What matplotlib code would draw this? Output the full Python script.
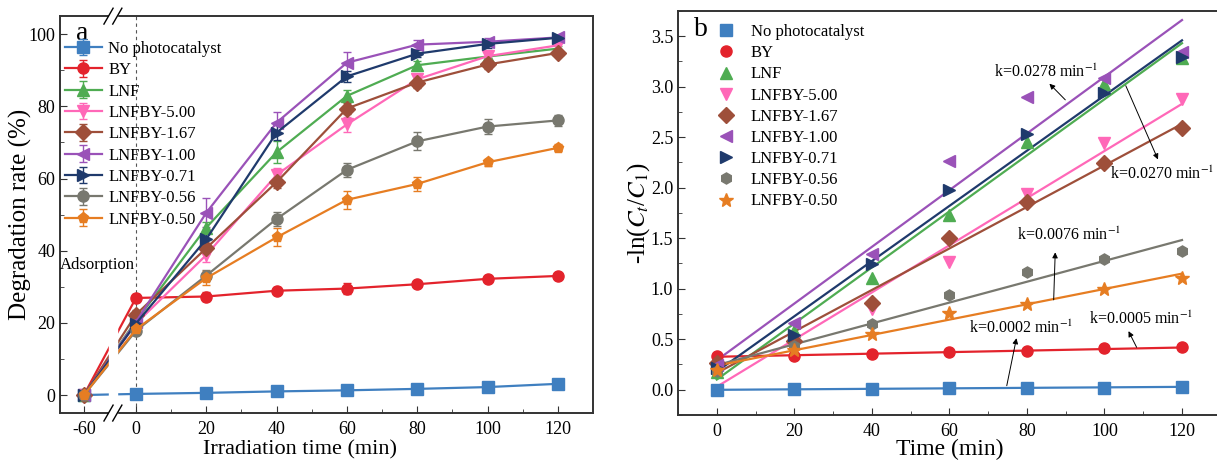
import numpy as np
import matplotlib
matplotlib.use("Agg")
import matplotlib.pyplot as plt
from matplotlib.ticker import MultipleLocator, FixedLocator

plt.rcParams['font.family'] = ['Liberation Serif', 'DejaVu Serif']
plt.rcParams['mathtext.fontset'] = 'stix'

# ---- data ----
names = ['No photocatalyst', 'BY', 'LNF', 'LNFBY-5.00', 'LNFBY-1.67',
         'LNFBY-1.00', 'LNFBY-0.71', 'LNFBY-0.56', 'LNFBY-0.50']
colors = ['#3f7fc0', '#e3232c', '#4fac52', '#ff68b8', '#9e4f3a',
          '#9a52b8', '#1f3a6c', '#78786f', '#e67d22']
markers_a = ['s', 'o', '^', 'v', 'D', '<', '>', 'o', 'p']
markers_b = ['s', 'o', '^', 'v', 'D', '<', '>', 'h', '*']

# panel a: degradation rate (%)
time_a = [-60, 0, 20, 40, 60, 80, 100, 120]
deg_nocat = [0, 0.3, 0.6, 1.0, 1.3, 1.7, 2.2, 3.1]
deg_by = [0, 26.9, 27.3, 28.9, 29.5, 30.7, 32.2, 33.0]
deg_lnf = [0, 20.5, 46.4, 67.3, 82.9, 91.4, 93.8, 96.0]
deg_500 = [0, 19.8, 38.8, 61.0, 75.0, 87.5, 93.9, 96.9]
deg_167 = [0, 22.3, 40.7, 59.0, 79.4, 86.6, 91.6, 94.8]
deg_100 = [0, 20.2, 50.5, 75.5, 92.1, 97.1, 97.9, 99.1]
deg_071 = [0, 19.8, 43.2, 72.7, 88.3, 94.6, 97.3, 99.0]
deg_056 = [0, 17.8, 33.1, 48.8, 62.4, 70.3, 74.4, 76.1]
deg_050 = [0, 18.2, 32.4, 43.7, 54.1, 58.5, 64.5, 68.5]

err_nocat = [0, 0.3, 0.3, 0.3, 0.3, 0.3, 0.3, 0.3]
err_by = [0, 1.0, 1.2, 1.0, 1.5, 0.8, 0.8, 0.6]
err_lnf = [0, 1.0, 1.5, 3.0, 1.5, 1.2, 1.0, 0.8]
err_500 = [0, 1.0, 2.0, 2.0, 2.0, 1.5, 1.0, 1.0]
err_167 = [0, 1.2, 1.5, 1.5, 1.5, 1.5, 1.2, 0.8]
err_100 = [0, 1.0, 4.0, 3.0, 3.0, 1.2, 1.0, 0.8]
err_071 = [0, 1.0, 1.5, 2.0, 1.5, 1.0, 1.0, 0.8]
err_056 = [0, 1.0, 1.5, 2.0, 2.0, 2.5, 2.0, 1.5]
err_050 = [0, 1.0, 2.0, 2.5, 2.5, 2.0, 1.0, 1.0]

# panel b: -ln(Ct/C1)
time_b = [0, 20, 40, 60, 80, 100, 120]
ln_nocat = [0.0, 0.004, 0.01, 0.013, 0.017, 0.022, 0.031]
ln_by = [0.336, 0.335, 0.355, 0.37, 0.38, 0.41, 0.42]
ln_lnf = [0.18, 0.58, 1.11, 1.73, 2.45, 3.03, 3.28]
ln_500 = [0.21, 0.48, 0.80, 1.26, 1.94, 2.44, 2.88]
ln_167 = [0.26, 0.48, 0.86, 1.50, 1.86, 2.24, 2.59]
ln_100 = [0.24, 0.66, 1.34, 2.26, 2.90, 3.09, 3.34]
ln_071 = [0.22, 0.54, 1.24, 1.98, 2.53, 2.94, 3.29]
ln_056 = [0.19, 0.43, 0.65, 0.94, 1.17, 1.29, 1.37]
ln_050 = [0.20, 0.39, 0.55, 0.76, 0.85, 1.00, 1.11]

deg_all = [deg_nocat, deg_by, deg_lnf, deg_500, deg_167, deg_100, deg_071, deg_056, deg_050]
err_all = [err_nocat, err_by, err_lnf, err_500, err_167, err_100, err_071, err_056, err_050]
ln_all = [ln_nocat, ln_by, ln_lnf, ln_500, ln_167, ln_100, ln_071, ln_056, ln_050]

k_labels = ['k=0.0278 min$^{-1}$', 'k=0.0270 min$^{-1}$', 'k=0.0076 min$^{-1}$',
            'k=0.0005 min$^{-1}$', 'k=0.0002 min$^{-1}$']

fig = plt.figure(figsize=(12.17, 4.61), dpi=100)
ax1 = fig.add_axes([0.0493, 0.104, 0.4380, 0.861])
ax2 = fig.add_axes([0.5571, 0.0998, 0.4460, 0.8764])

# broken axis: the -60 point is drawn compressed left of 0
X60 = -14.8


def brk(t):
    t = np.asarray(t, dtype=float)
    return np.where(t < 0, X60, t)


for i in range(len(names)):
    ax1.errorbar(brk(time_a), deg_all[i], yerr=err_all[i], color=colors[i],
                 marker=markers_a[i], ms=8, lw=1.6, elinewidth=1, capsize=3,
                 ecolor=colors[i], label=names[i], zorder=3)

ax1.axvline(0, color='#555555', ls=(0, (3, 3)), lw=0.8, zorder=1)
ax1.axvspan(-7.8, -5.3, ymin=-0.02, ymax=1.02, color='white', zorder=4, clip_on=False)
tr = ax1.get_xaxis_transform()
for xb in (-7.8, -5.3):
    for yb in (0, 1):
        ax1.plot([xb - 1.3, xb + 1.3], [yb - 0.02, yb + 0.02], color='black',
                 lw=1, transform=tr, clip_on=False, zorder=6)

ax1.set_xlim(-21.6, 130)
ax1.set_ylim(-5, 105)
ax1.xaxis.set_major_locator(FixedLocator([X60, 0, 20, 40, 60, 80, 100, 120]))
ax1.set_xticklabels(['-60', '0', '20', '40', '60', '80', '100', '120'])
ax1.xaxis.set_minor_locator(FixedLocator([10, 30, 50, 70, 90, 110]))
ax1.yaxis.set_major_locator(MultipleLocator(20))
ax1.yaxis.set_minor_locator(MultipleLocator(10))
ax1.set_xlabel('Irradiation time (min)', fontsize=16, labelpad=1, x=0.45)
ax1.set_ylabel('Degradation rate (%)', fontsize=18, labelpad=-3)
ax1.text(-17, 98.5, 'a', fontsize=20, va='baseline', zorder=10)
ax1.text(-21.6, 36, 'Adsorption', fontsize=12, va='center', zorder=10)
leg1 = ax1.legend(loc='upper left', bbox_to_anchor=(0.0, 0.95), frameon=False,
                  fontsize=12, handlelength=2.2, handletextpad=0.4, labelspacing=0.32,
                  borderaxespad=0.2, borderpad=0.1)
leg1.set_zorder(10)

# panel b: points with linear fits
for i in range(len(names)):
    p = np.polyfit(time_b, ln_all[i], 1)
    tt = np.array([time_b[0], time_b[-1]])
    ax2.plot(tt, np.polyval(p, tt), color=colors[i], lw=1.6, zorder=2)
    ax2.plot(time_b, ln_all[i], ls='none', marker=markers_b[i], ms=8 if markers_b[i] != '*' else 10,
             color=colors[i], label=names[i], zorder=3)

arrow = dict(arrowstyle='-|>', color='black', lw=0.7, mutation_scale=8,
             shrinkA=0, shrinkB=0)
fs_k = 11.5
ax2.text(71.5, 3.14, k_labels[0], fontsize=fs_k, va='center')
ax2.annotate('', xy=(85.8, 3.03), xytext=(89.9, 2.87), arrowprops=arrow)
ax2.annotate('', xy=(113.8, 2.28), xytext=(105.5, 3.01), arrowprops=arrow)
ax2.text(101.5, 2.13, k_labels[1], fontsize=fs_k, va='center')
ax2.annotate('', xy=(87.3, 1.36), xytext=(86.9, 0.89), arrowprops=arrow)
ax2.text(77.4, 1.53, k_labels[2], fontsize=fs_k, va='center')
ax2.annotate('', xy=(106.2, 0.58), xytext=(108.3, 0.42), arrowprops=arrow)
ax2.text(95.9, 0.70, k_labels[3], fontsize=fs_k, va='center')
ax2.annotate('', xy=(77.3, 0.51), xytext=(74.8, 0.04), arrowprops=arrow)
ax2.text(65.1, 0.61, k_labels[4], fontsize=fs_k, va='center')

ax2.set_xlim(-10, 130)
ax2.set_ylim(-0.25, 3.75)
ax2.xaxis.set_major_locator(MultipleLocator(20))
ax2.xaxis.set_minor_locator(MultipleLocator(10))
ax2.yaxis.set_major_locator(MultipleLocator(0.5))
ax2.yaxis.set_minor_locator(MultipleLocator(0.25))
ax2.set_xlabel('Time (min)', fontsize=17, labelpad=-1)
ax2.set_ylabel('-ln($C_t$/$C_1$)', fontsize=18, labelpad=-1)
ax2.text(-5.9, 3.50, 'b', fontsize=20, va='baseline')
ax2.legend(loc='upper left', bbox_to_anchor=(0.06, 0.98), frameon=False,
           fontsize=12, handlelength=1.2, handletextpad=0.9, labelspacing=0.31,
           borderaxespad=0.2, borderpad=0.1)

for ax in (ax1, ax2):
    ax.tick_params(which='both', direction='in', labelsize=13, color='#333333')
    ax.tick_params(which='major', length=5)
    ax.tick_params(which='minor', length=3)
    ax.tick_params(axis='x', pad=6)
    for s in ax.spines.values():
        s.set_linewidth(1.4)
        s.set_color('#333333')

fig.savefig('out.png', dpi=100)
